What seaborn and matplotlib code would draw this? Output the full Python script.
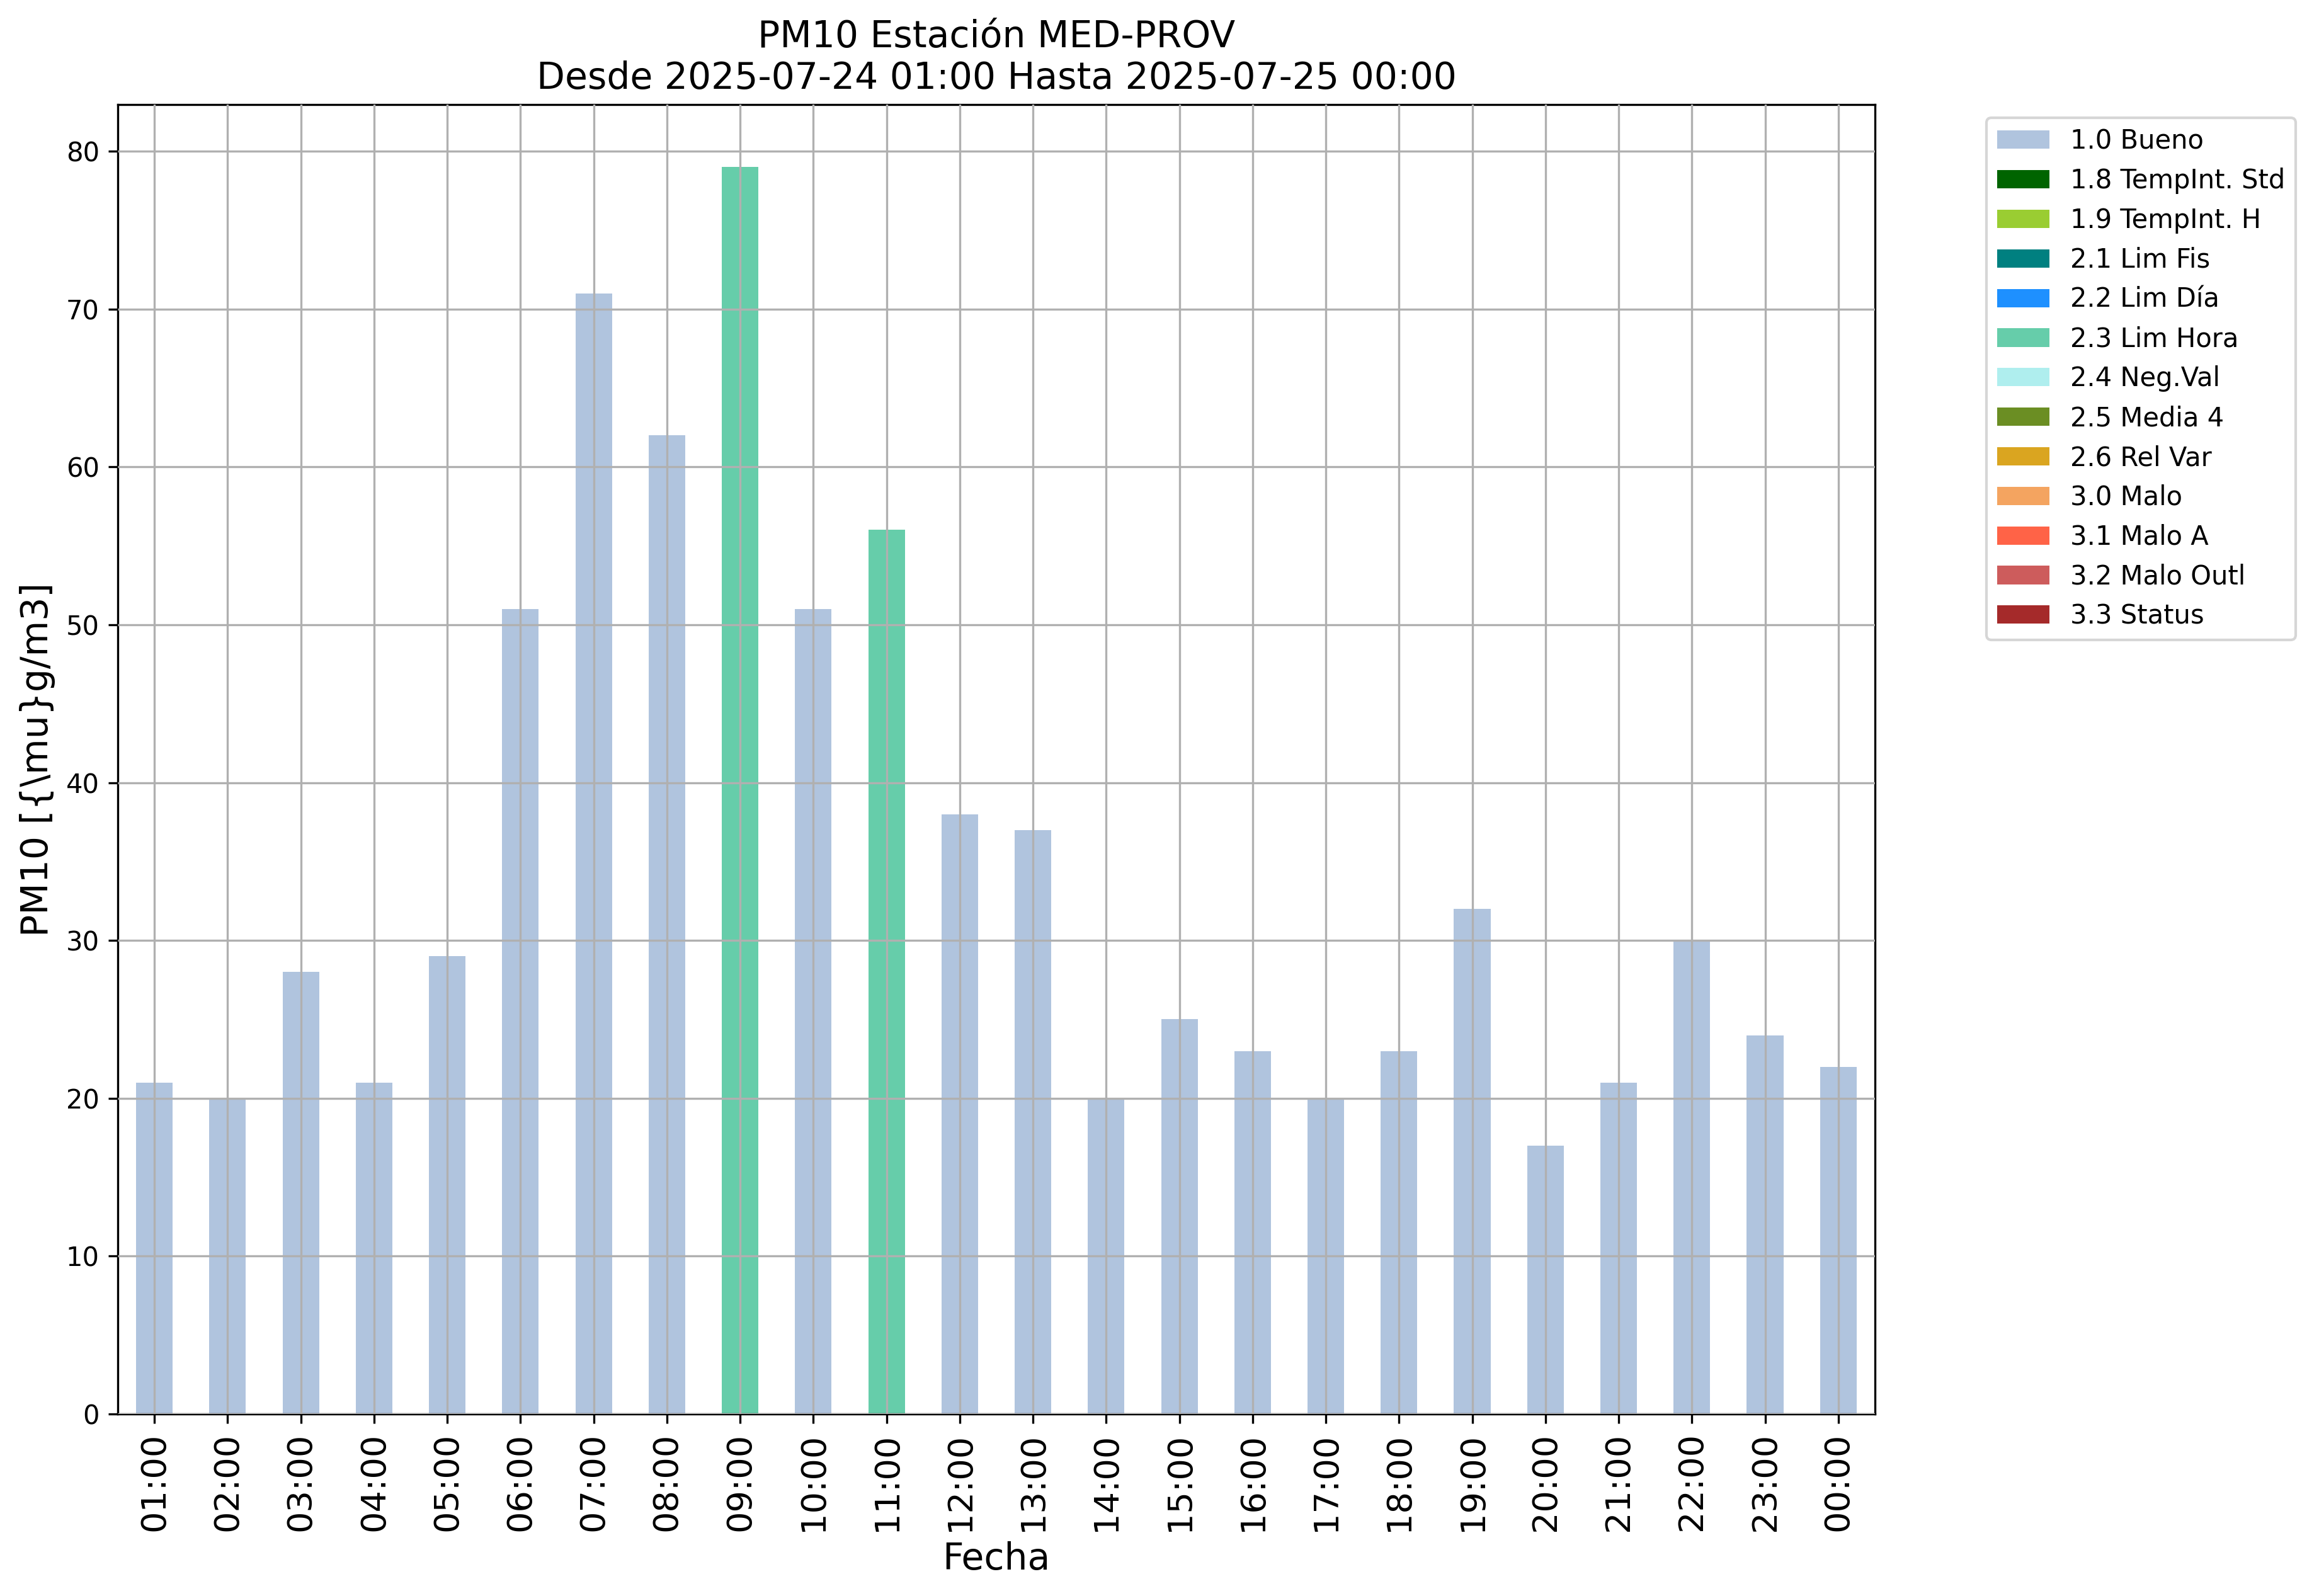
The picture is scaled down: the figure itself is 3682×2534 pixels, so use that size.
import matplotlib
matplotlib.use("Agg")
import matplotlib.pyplot as plt
from matplotlib.patches import Patch
import seaborn as sns
import pandas as pd

hours = ["01:00", "02:00", "03:00", "04:00", "05:00", "06:00", "07:00", "08:00",
         "09:00", "10:00", "11:00", "12:00", "13:00", "14:00", "15:00", "16:00",
         "17:00", "18:00", "19:00", "20:00", "21:00", "22:00", "23:00", "00:00"]
values = [21, 20, 28, 21, 29, 51, 71, 62, 79, 51, 56, 38, 37, 20, 25, 23,
          20, 23, 32, 17, 21, 30, 24, 22]
flags = ["1.0 Bueno"] * 8 + ["2.3 Lim Hora", "1.0 Bueno", "2.3 Lim Hora"] + ["1.0 Bueno"] * 13

legend_labels = ["1.0 Bueno", "1.8 TempInt. Std", "1.9 TempInt. H", "2.1 Lim Fis",
                 "2.2 Lim Día", "2.3 Lim Hora", "2.4 Neg.Val", "2.5 Media 4",
                 "2.6 Rel Var", "3.0 Malo", "3.1 Malo A", "3.2 Malo Outl", "3.3 Status"]
legend_colors = ["lightsteelblue", "darkgreen", "yellowgreen", "teal", "dodgerblue",
                 "mediumaquamarine", "paleturquoise", "olivedrab", "goldenrod",
                 "sandybrown", "tomato", "indianred", "brown"]

df = pd.DataFrame({"Fecha": hours, "PM10": values, "flag": flags})
palette = dict(zip(legend_labels, legend_colors))

fig = plt.figure(figsize=(3682 / 300, 2534 / 300), dpi=300)
ax = fig.add_axes([0.0508, 0.114, 0.8085 - 0.0508, 0.9345 - 0.114])

sns.barplot(data=df, x="Fecha", y="PM10", hue="flag", palette=palette,
            order=hours, dodge=False, width=0.5, legend=False, ax=ax,
            saturation=1, linewidth=0)

ax.set_axisbelow(False)
ax.grid(True, color="#b0b0b0", linewidth=0.8)
ax.set_xlim(-0.5, len(hours) - 0.5)
ax.set_ylim(0, max(values) * 1.05)
ax.tick_params(axis="x", labelrotation=90, labelsize=13)
ax.tick_params(axis="y", labelsize=10)
ax.set_xlabel("Fecha", fontsize=14)
ax.set_ylabel(r"PM10 [{\mu}g/m3]", fontsize=14)
ax.set_title("PM10 Estación MED-PROV\nDesde 2025-07-24 01:00 Hasta 2025-07-25 00:00",
             fontsize=14)

handles = [Patch(facecolor=c, label=l) for l, c in zip(legend_labels, legend_colors)]
ax.legend(handles=handles, loc="upper left", bbox_to_anchor=(1.056, 1),
          fontsize=10)

fig.savefig("out.png", dpi=300)
